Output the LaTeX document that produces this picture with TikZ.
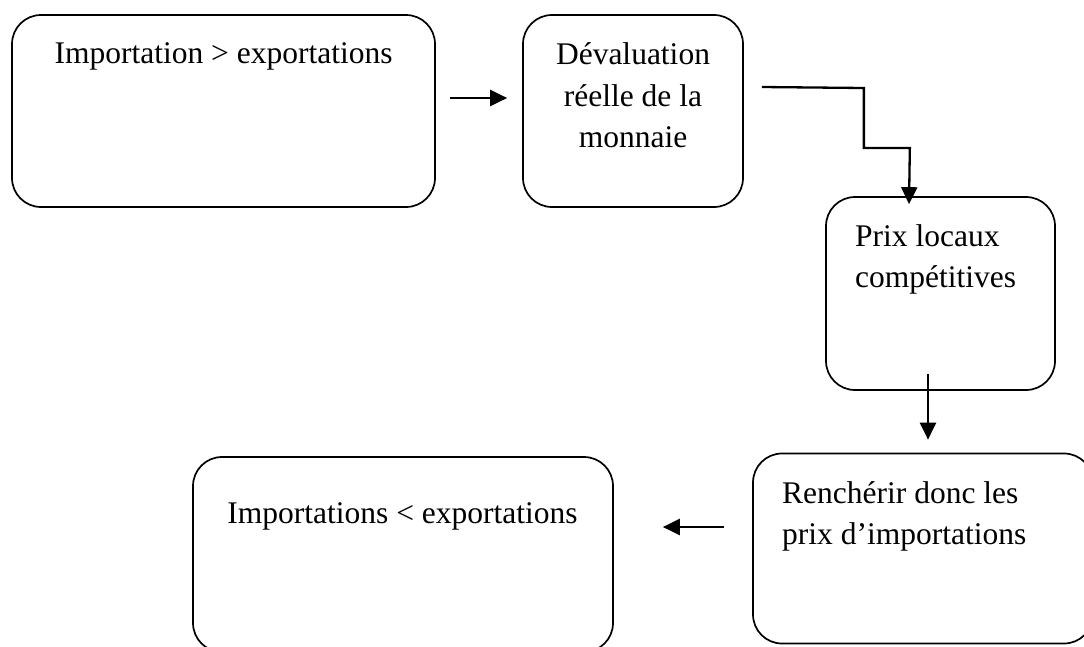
\documentclass[tikz,border=0pt]{standalone}
\usepackage{fontspec}
\setmainfont{Liberation Serif}
\usetikzlibrary{arrows.meta}
% stacked lines whose baseline is the first line's baseline
\newcommand{\linesc}[1]{\vtop{\halign{\hfil##\hfil\cr#1\crcr}}}
\newcommand{\linesl}[1]{\vtop{\halign{##\hfil\cr#1\crcr}}}
\begin{document}
\begin{tikzpicture}[x=1pt,y=-1pt,
  box/.style={draw=black, line width=1.7pt, rounded corners=29pt, inner sep=0pt},
  lbl/.style={inner sep=0pt, font=\fontsize{31.5}{41.5}\selectfont},
  link/.style={line width=2.3pt, -{Triangle[length=17pt,width=16pt]}}]
\useasboundingbox (0,0) rectangle (1084,646);
\clip (0,0) rectangle (1084,646);

% boxes
\node[box, minimum width=423pt, minimum height=192pt] (b1) at (223.5,111) {};
\node[box, minimum width=220pt, minimum height=192pt] (b2) at (633,111) {};
\node[box, minimum width=229pt, minimum height=193pt] (b3) at (940.5,293.5) {};
\node[box, minimum width=340pt, minimum height=190pt] (b4) at (923,548.5) {};
\node[box, minimum width=420pt, minimum height=195pt] (b5) at (403,554.5) {};

% texts
\node[lbl, anchor=base] (t1) at (223.5,63) {Importation > exportations};
\node[lbl, anchor=base] (t2) at (633,64.5) {\linesc{Dévaluation\cr réelle de la\cr monnaie}};
\node[lbl, anchor=base west] (t3) at (855,246) {\linesl{Prix locaux\cr compétitives}};
\node[lbl, anchor=base west] (t4) at (782,503) {\linesl{Renchérir donc les\cr prix d’importations}};
\node[lbl, anchor=base] (t5) at (402.5,523) {Importations < exportations};

% connectors
\draw[link] ([shift={(14,-13)}]b1.east) -- ([shift={(-15,-13)}]b2.west);
\draw[link] ([shift={(18,-24)}]b2.east) -- ++(102,1) -- ++(0,60) -- ++(46,0)
  -- ([shift={(-31.5,8)}]b3.north);
\draw[link] ([shift={(-12.5,-17)}]b3.south) -- ([shift={(5,-13)}]b4.north);
\draw[link] ([shift={(-28,-21.5)}]b4.west) -- ([shift={(49,-27.5)}]b5.east);
\end{tikzpicture}
\end{document}
